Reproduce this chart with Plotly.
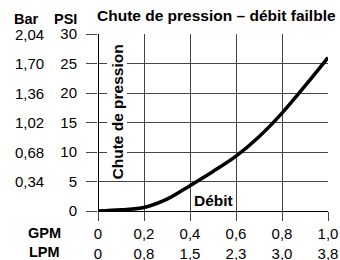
import plotly.graph_objects as go

# Data
flow_gpm = [0, 0.1, 0.2, 0.3, 0.4, 0.5, 0.6, 0.7, 0.8, 0.9, 1.0]
drop_psi = [0, 0.2, 0.6, 2.0, 4.3, 6.7, 9.3, 12.6, 16.6, 21.2, 26.0]

gpm_ticks = [0, 0.2, 0.4, 0.6, 0.8, 1.0]
gpm_labels = ["0", "0,2", "0,4", "0,6", "0,8", "1,0"]
lpm_labels = ["0", "0,8", "1,5", "2,3", "3,0", "3,8"]

psi_ticks = [0, 5, 10, 15, 20, 25, 30]
psi_labels = ["0", "5", "10", "15", "20", "25", "30"]
bar_labels = ["", "0,34", "0,68", "1,02", "1,36", "1,70", "2,04"]

title_text = "Chute de pression – débit failble"
y_title = "Chute de pression"
x_title = "Débit"

FONT = "Liberation Sans, Arial, sans-serif"
GRID = "#444444"

fig = go.Figure()
fig.add_trace(go.Scatter(
    x=flow_gpm, y=drop_psi, mode="lines",
    line=dict(color="black", width=3.5, shape="spline", smoothing=1.0),
    hoverinfo="skip", showlegend=False,
))

fig.update_layout(
    width=340, height=260,
    margin=dict(l=98, r=12, t=34, b=49, autoexpand=False),
    paper_bgcolor="white", plot_bgcolor="white",
    font=dict(family=FONT, size=15, color="black"),
    showlegend=False,
)

fig.update_xaxes(
    range=[0, 1.0], tickvals=gpm_ticks,
    ticktext=[g + "<br>" + l for g, l in zip(gpm_labels, lpm_labels)],
    showgrid=True, gridcolor=GRID, gridwidth=1,
    ticks="outside", ticklen=9, tickcolor=GRID, tickwidth=1,
    zeroline=True, zerolinecolor="black", zerolinewidth=1,
    showline=False, fixedrange=True, automargin=False,
)
fig.update_yaxes(
    range=[0, 30], tickvals=psi_ticks, ticktext=psi_labels,
    showgrid=True, gridcolor=GRID, gridwidth=1,
    ticks="outside", ticklen=11, tickcolor=GRID, tickwidth=1,
    ticklabelstandoff=6,
    zeroline=True, zerolinecolor="black", zerolinewidth=1,
    showline=False, fixedrange=True, automargin=False,
)

W, H = 230.0, 177.0
def px(x):
    return (x - 98) / W
def py(y):
    return (211 - y) / H

ann = []
# Title
ann.append(dict(x=px(95), xref="paper", y=py(15), yref="paper",
                text="<b>" + title_text + "</b>", showarrow=False,
                xanchor="left", yanchor="middle", font=dict(size=15.5)))
# Bar column labels
for v, t in zip(psi_ticks, bar_labels):
    if t:
        ann.append(dict(x=px(46), xref="paper", y=v, yref="y", text=t,
                        showarrow=False, xanchor="right", yanchor="middle",
                        font=dict(size=15)))
# Headers
for txt, cx, cy in [("Bar", 26, 18.5), ("PSI", 65, 18.5), ("GPM", 44, 233), ("LPM", 44, 252)]:
    ann.append(dict(x=px(cx), xref="paper", y=py(cy), yref="paper",
                    text="<b>" + txt + "</b>", showarrow=False,
                    xanchor="center", yanchor="middle", font=dict(size=14.5)))
# Axis titles inside the plot
ann.append(dict(x=px(116.5), xref="paper", y=py(112), yref="paper",
                text="<b>" + y_title + "</b>", textangle=-90, showarrow=False,
                xanchor="center", yanchor="middle", bgcolor="white", borderpad=1,
                font=dict(size=15.5)))
ann.append(dict(x=px(213), xref="paper", y=py(200), yref="paper",
                text="<b>" + x_title + "</b>", showarrow=False,
                xanchor="center", yanchor="middle", font=dict(size=15.5)))
fig.update_layout(annotations=ann)

fig.write_html(
    "out.html",
    config={"displayModeBar": False, "staticPlot": True},
    post_script="document.body.style.margin='0';document.body.style.overflow='hidden';",
)
